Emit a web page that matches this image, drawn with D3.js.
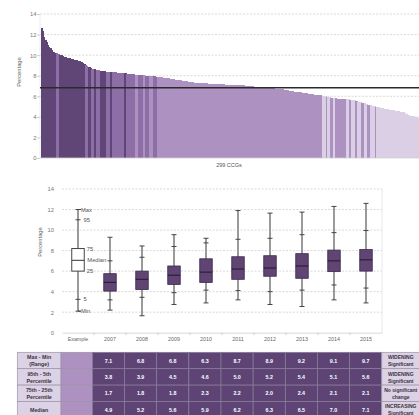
<!DOCTYPE html>
<html><head><meta charset="utf-8">
<script src="https://cdn.jsdelivr.net/npm/d3@7/dist/d3.min.js"></script>
<style>
html,body{margin:0;padding:0;background:#fff;}
svg{display:block;font-family:"Liberation Sans",Arial,sans-serif;}
</style></head>
<body>
<svg id="c" width="419" height="415"></svg>
<script>
// ---------- DATA ----------
// Top chart: 299 CCG values (percentage), sorted descending
const ccgValues = [
12.6,12.3,11.8,11.5,11.3,11.0,10.8,10.7,10.5,10.35,10.3,10.25,10.2,10.15,10.1,10.05,10.0,9.95,
9.85,9.8,9.75,9.72,9.7,9.66,9.62,
9.58,9.55,9.52,9.48,9.44,9.4,9.36,9.3,
9.22,9.15,9.05,8.95,8.88,
8.8,8.75,8.7,8.66,8.62,
8.58,8.55,8.52,8.5,8.47,8.45,8.43,8.41,
8.4,8.39,8.38,8.37,8.36,8.35,8.34,8.33,8.32,8.31,8.3,8.29,8.28,8.27,8.26,8.24,
8.22,8.2,8.18,8.17,8.15,8.14,8.12,8.11,8.1,8.09,8.07,
8.06,8.05,8.04,8.03,8.02,8.01,8.0,7.99,7.98,7.97,7.96,7.95,7.93,7.91,7.89,7.87,7.85,7.83,7.81,7.79,7.77,7.75,7.74,
7.73,7.71,7.69,7.67,7.65,7.63,7.61,7.59,7.57,7.55,7.53,7.51,7.49,7.47,7.45,7.43,7.41,7.39,7.37,7.35,7.34,7.32,
7.31,7.3,7.29,7.29,7.28,7.27,7.26,7.26,7.25,7.24,7.23,7.23,7.22,7.21,7.2,7.2,7.19,7.18,7.17,7.17,7.16,7.15,7.14,7.14,7.13,7.12,7.11,7.11,7.1,7.1,7.09,7.09,7.08,7.08,7.07,7.07,
7.06,7.05,7.04,7.02,7.01,7.0,6.99,6.97,6.96,6.95,6.94,6.92,6.91,6.9,6.89,6.87,
6.86,6.85,6.84,6.82,6.81,6.8,6.79,6.78,6.77,6.76,6.75,6.73,6.72,6.71,6.7,6.68,
6.66,6.64,6.62,6.59,6.57,6.54,6.51,
6.5,6.48,6.46,6.44,6.42,6.41,6.39,6.37,6.35,6.33,6.31,6.3,6.28,6.26,6.24,6.22,6.2,6.19,6.17,6.15,6.14,6.12,6.1,6.09,6.07,6.06,
6.03,6.0,5.97,5.94,5.91,5.88,5.85,5.83,5.8,
5.79,5.78,5.77,5.76,5.75,5.74,5.73,5.72,5.71,5.7,5.69,5.68,5.67,5.66,5.64,
5.6,5.56,5.52,5.48,5.44,5.41,5.37,5.33,5.3,5.27,5.23,5.2,5.17,5.13,5.1,
5.07,5.04,5.0,4.97,4.93,
4.9,4.87,4.84,4.81,4.78,4.75,4.72,4.7,4.68,4.66,
4.64,4.62,4.6,4.58,4.56,4.54,4.52,4.5,4.47,4.44,
4.38,4.25,4.18,4.15,4.12,4.09,4.06,4.03,4.0,3.95,3.85
];
// colour group of each bar, as runs [group, number of bars]
const ccgGroupRuns = [
[0,12],[1,3],[0,20],[1,3],[0,2],[1,2],[0,2],[1,3],[0,5],[1,3],[0,2],[1,9],[0,2],[1,7],
[2,2],[1,4],[2,2],[1,3],[2,3],[1,3],[2,131],[3,3],[2,1],[3,2],[2,3],[3,1],[2,9],[3,2],
[2,2],[3,3],[2,2],[3,3],[2,2],[3,3],[2,2],[3,4],[2,1],[3,33]
];
const groupColors = ["#604676","#8d6ea6","#ad91c1","#dbcfe5"];
const referenceLine = 6.83;
const yTicks = [0,2,4,6,8,10,12,14];

// Box plot data
const boxCategories = ["Example","2007","2008","2009","2010","2011","2012","2013","2014","2015"];
const boxMin    = [2.1, 2.2, 1.65,2.75,2.9, 3.2, 2.75,2.55,3.2, 2.9];
const boxP5     = [3.25,3.2, 3.45,3.9, 4.15,4.1, 4.0, 4.15,4.65,4.35];
const boxQ1     = [6.0, 4.05,4.2, 4.7, 4.9, 5.2, 5.5, 5.3, 5.95,6.0];
const boxMedian = [7.05,4.9, 5.2, 5.6, 5.9, 6.2, 6.3, 6.5, 7.0, 7.1];
const boxQ3     = [8.2, 5.75,6.0, 6.5, 7.2, 7.4, 7.5, 7.7, 8.05,8.1];
const boxP95    = [11.0,7.0, 7.35,8.4, 8.75,9.1, 9.2, 9.55,9.75,9.95];
const boxMax    = [12.0,9.3, 8.45,9.55,9.2, 11.9,11.65,11.75,12.3,12.6];
const exampleLabels = ["Max","95","75","Median","25","5","Min"];

// Table
const tableRowLabels = [["Max - Min","(Range)"],["95th - 5th","Percentile"],["75th - 25th","Percentile"],["Median"]];
const tableRange  = [7.1,6.8,6.8,6.3,8.7,8.9,9.2,9.1,9.7];
const tableP95P5  = [3.8,3.9,4.5,4.6,5.0,5.2,5.4,5.1,5.6];
const tableIQR    = [1.7,1.8,1.8,2.3,2.2,2.0,2.4,2.1,2.1];
const tableMedian = [4.9,5.2,5.6,5.9,6.2,6.3,6.5,7.0,7.1];
const tableTrend  = [["WIDENING","Significant"],["WIDENING","Significant"],["No significant","change"],["INCREASING","Significant"]];

// ---------- DRAW ----------
const svg = d3.select("#c");
const gridCol = "#cfcfcf", labCol = "#777";

// expand groups
const ccgGroups = [];
ccgGroupRuns.forEach(([g,n]) => { for (let k=0;k<n;k++) ccgGroups.push(g); });
const bars = ccgValues.map((v,i)=>({i, v, g: ccgGroups[i]}));

// ---- Top chart ----
const y1 = d3.scaleLinear().domain([0,14]).range([158,14]);
const x1 = d3.scaleBand().domain(d3.range(ccgValues.length)).range([40.5,418]).padding(0);
const topG = svg.append("g");
topG.selectAll("line.grid").data(yTicks.filter(t=>t>0)).join("line")
  .attr("x1",40).attr("x2",419).attr("y1",d=>y1(d)).attr("y2",d=>y1(d))
  .attr("stroke",gridCol).attr("stroke-width",0.8).attr("stroke-dasharray","2,1.5");
topG.selectAll("rect.bar").data(bars).join("rect")
  .attr("x",d=>x1(d.i)).attr("width",x1.bandwidth()+1)
  .attr("y",d=>y1(d.v)).attr("height",d=>y1(0)-y1(d.v))
  .attr("fill",d=>groupColors[d.g]).attr("shape-rendering","crispEdges");
topG.append("line").attr("x1",40).attr("x2",419).attr("y1",y1(0)).attr("y2",y1(0))
  .attr("stroke","#cfcfcf").attr("stroke-width",0.8);
topG.append("line").attr("x1",40).attr("x2",40).attr("y1",y1(14)).attr("y2",y1(0))
  .attr("stroke","#dddddd").attr("stroke-width",0.6);
topG.append("line").attr("x1",40).attr("x2",419).attr("y1",y1(referenceLine)).attr("y2",y1(referenceLine))
  .attr("stroke","#2a2a2a").attr("stroke-width",1.3);
const yAx1 = d3.axisLeft(y1).tickValues(yTicks).tickSize(2).tickFormat(d3.format("d"));
const ya1 = topG.append("g").attr("transform","translate(39.5,0)").call(yAx1);
ya1.select(".domain").remove();
ya1.selectAll("line").attr("stroke","#bbb");
ya1.selectAll("text").attr("font-size",5.8).attr("fill",labCol).attr("x",-3);
topG.append("text").attr("transform","translate(21,72) rotate(-90)").attr("text-anchor","middle")
  .attr("font-size",5.8).attr("fill","#666").text("Percentage");
topG.append("text").attr("x",229).attr("y",167).attr("text-anchor","middle")
  .attr("font-size",5.5).attr("fill","#555").text("299 CCGs");

// ---- Box chart ----
const y2 = d3.scaleLinear().domain([0,14]).range([332.7,189]);
const x2 = d3.scaleBand().domain(boxCategories).range([62,382]);
const bx = svg.append("g");
bx.selectAll("line.grid").data(yTicks.filter(t=>t>0)).join("line")
  .attr("x1",62).attr("x2",382).attr("y1",d=>y2(d)).attr("y2",d=>y2(d))
  .attr("stroke",gridCol).attr("stroke-width",0.8).attr("stroke-dasharray","2,1.5");
bx.append("line").attr("x1",382).attr("x2",382).attr("y1",y2(14)).attr("y2",y2(0))
  .attr("stroke","#e2e2e2").attr("stroke-width",0.8);
const xAx2 = d3.axisBottom(x2).tickSize(0).tickPadding(5);
const xa2 = bx.append("g").attr("transform",`translate(0,${y2(0)})`).call(xAx2);
xa2.select(".domain").attr("stroke","#cfcfcf").attr("stroke-width",0.8);
xa2.selectAll("text").attr("font-size",5.3).attr("fill","#666");
bx.selectAll("line.sep").data(boxCategories.slice(1)).join("line")
  .attr("x1",d=>x2(d)).attr("x2",d=>x2(d)).attr("y1",y2(0)).attr("y2",y2(0)+2.5)
  .attr("stroke","#bbb").attr("stroke-width",0.7);
const yAx2 = d3.axisLeft(y2).tickValues(yTicks).tickSize(0).tickPadding(8).tickFormat(d3.format("d"));
const ya2 = bx.append("g").attr("transform","translate(62,0)").call(yAx2);
ya2.select(".domain").remove();
ya2.selectAll("text").attr("font-size",5.8).attr("fill",labCol);
bx.append("text").attr("transform","translate(42,242) rotate(-90)").attr("text-anchor","middle")
  .attr("font-size",5.8).attr("fill","#666").text("Percentage");

const boxes = boxCategories.map((c,i)=>({c,i,min:boxMin[i],p5:boxP5[i],q1:boxQ1[i],med:boxMedian[i],q3:boxQ3[i],p95:boxP95[i],max:boxMax[i]}));
const bw = 12.5, cw = 5;
const bg = bx.selectAll("g.box").data(boxes).join("g")
  .attr("transform",d=>`translate(${x2(d.c)+x2.bandwidth()/2},0)`);
bg.append("line").attr("y1",d=>y2(d.min)).attr("y2",d=>y2(d.max))
  .attr("stroke","#9a9a9a").attr("stroke-width",2);
["min","p5","p95","max"].forEach(k=>{
  bg.append("line").attr("x1",-cw/2).attr("x2",cw/2).attr("y1",d=>y2(d[k])).attr("y2",d=>y2(d[k]))
    .attr("stroke","#444").attr("stroke-width",1);
});
bg.append("rect").attr("x",-bw/2).attr("width",bw)
  .attr("y",d=>y2(d.q3)).attr("height",d=>y2(d.q1)-y2(d.q3))
  .attr("fill",d=>d.i===0?"#fff":"#5f4474")
  .attr("stroke",d=>d.i===0?"#444":"#3b2b4a").attr("stroke-width",d=>d.i===0?1:0.8);
bg.append("line").attr("x1",-bw/2).attr("x2",bw/2).attr("y1",d=>y2(d.med)).attr("y2",d=>y2(d.med))
  .attr("stroke",d=>d.i===0?"#444":"#2a1b36").attr("stroke-width",1.1);

// example annotations
const ex = boxes[0];
const exVals = [ex.max, ex.p95, ex.q3, ex.med, ex.q1, ex.p5, ex.min];
const exOff = [3, 5.5, 8.7, 9.3, 8.7, 5.5, 3];
const cx0 = x2(ex.c)+x2.bandwidth()/2;
bx.selectAll("text.exl").data(exampleLabels).join("text")
  .attr("x",(d,i)=>cx0+exOff[i]).attr("y",(d,i)=>y2(exVals[i])+2)
  .attr("font-size",5.8).attr("fill","#555").text(d=>d);
bx.selectAll("line.exm").data([ex.max, ex.min]).join("line")
  .attr("x1",cx0).attr("x2",cx0+3).attr("y1",d=>y2(d)).attr("y2",d=>y2(d))
  .attr("stroke","#444").attr("stroke-width",1);

// ---- Table ----
const tb = svg.append("g");
const rowTop = 352.3, rowH = 16.4;
const colLabelX = 17.3, colExX = 61, colDataX = 92.4, colW = 32.15, colTrendX = colDataX + 9*colW, colTrendW = 45;
const tableData = [tableRange, tableP95P5, tableIQR, tableMedian];
const border = "#9d92a8";
tableData.forEach((vals, r) => {
  const yy = rowTop + r*rowH;
  tb.append("rect").attr("x",colLabelX).attr("y",yy).attr("width",colExX-colLabelX).attr("height",rowH)
    .attr("fill","#dcd2e5").attr("stroke",border).attr("stroke-width",0.7);
  const lines = tableRowLabels[r];
  lines.forEach((t,k)=>{
    tb.append("text").attr("x",(colLabelX+colExX)/2)
      .attr("y",yy+rowH/2+2 + (lines.length===2 ? (k===0?-3.3:3.7) : 0))
      .attr("text-anchor","middle").attr("font-size",5.3).attr("font-weight","bold").attr("fill","#3a3340").text(t);
  });
  tb.append("rect").attr("x",colExX).attr("y",yy).attr("width",colDataX-colExX).attr("height",rowH)
    .attr("fill","#ad91c1").attr("stroke",border).attr("stroke-width",0.7);
  vals.forEach((v,c)=>{
    tb.append("rect").attr("x",colDataX+c*colW).attr("y",yy).attr("width",colW).attr("height",rowH)
      .attr("fill","#5e4475").attr("stroke","#8a7b99").attr("stroke-width",0.7);
    tb.append("text").attr("x",colDataX+c*colW+colW/2).attr("y",yy+rowH/2+2)
      .attr("text-anchor","middle").attr("font-size",5.3).attr("font-weight","bold").attr("fill","#fff")
      .text(d3.format(".1f")(v));
  });
  tb.append("rect").attr("x",colTrendX).attr("y",yy).attr("width",colTrendW).attr("height",rowH)
    .attr("fill","#dcd2e5").attr("stroke",border).attr("stroke-width",0.7);
  tableTrend[r].forEach((t,k)=>{
    tb.append("text").attr("x",colTrendX+19).attr("y",yy+rowH/2+2+(k===0?-3.3:3.7))
      .attr("text-anchor","middle").attr("font-size",5).attr("font-weight","bold").attr("fill","#3a3340").text(t);
  });
});
</script>
</body></html>
